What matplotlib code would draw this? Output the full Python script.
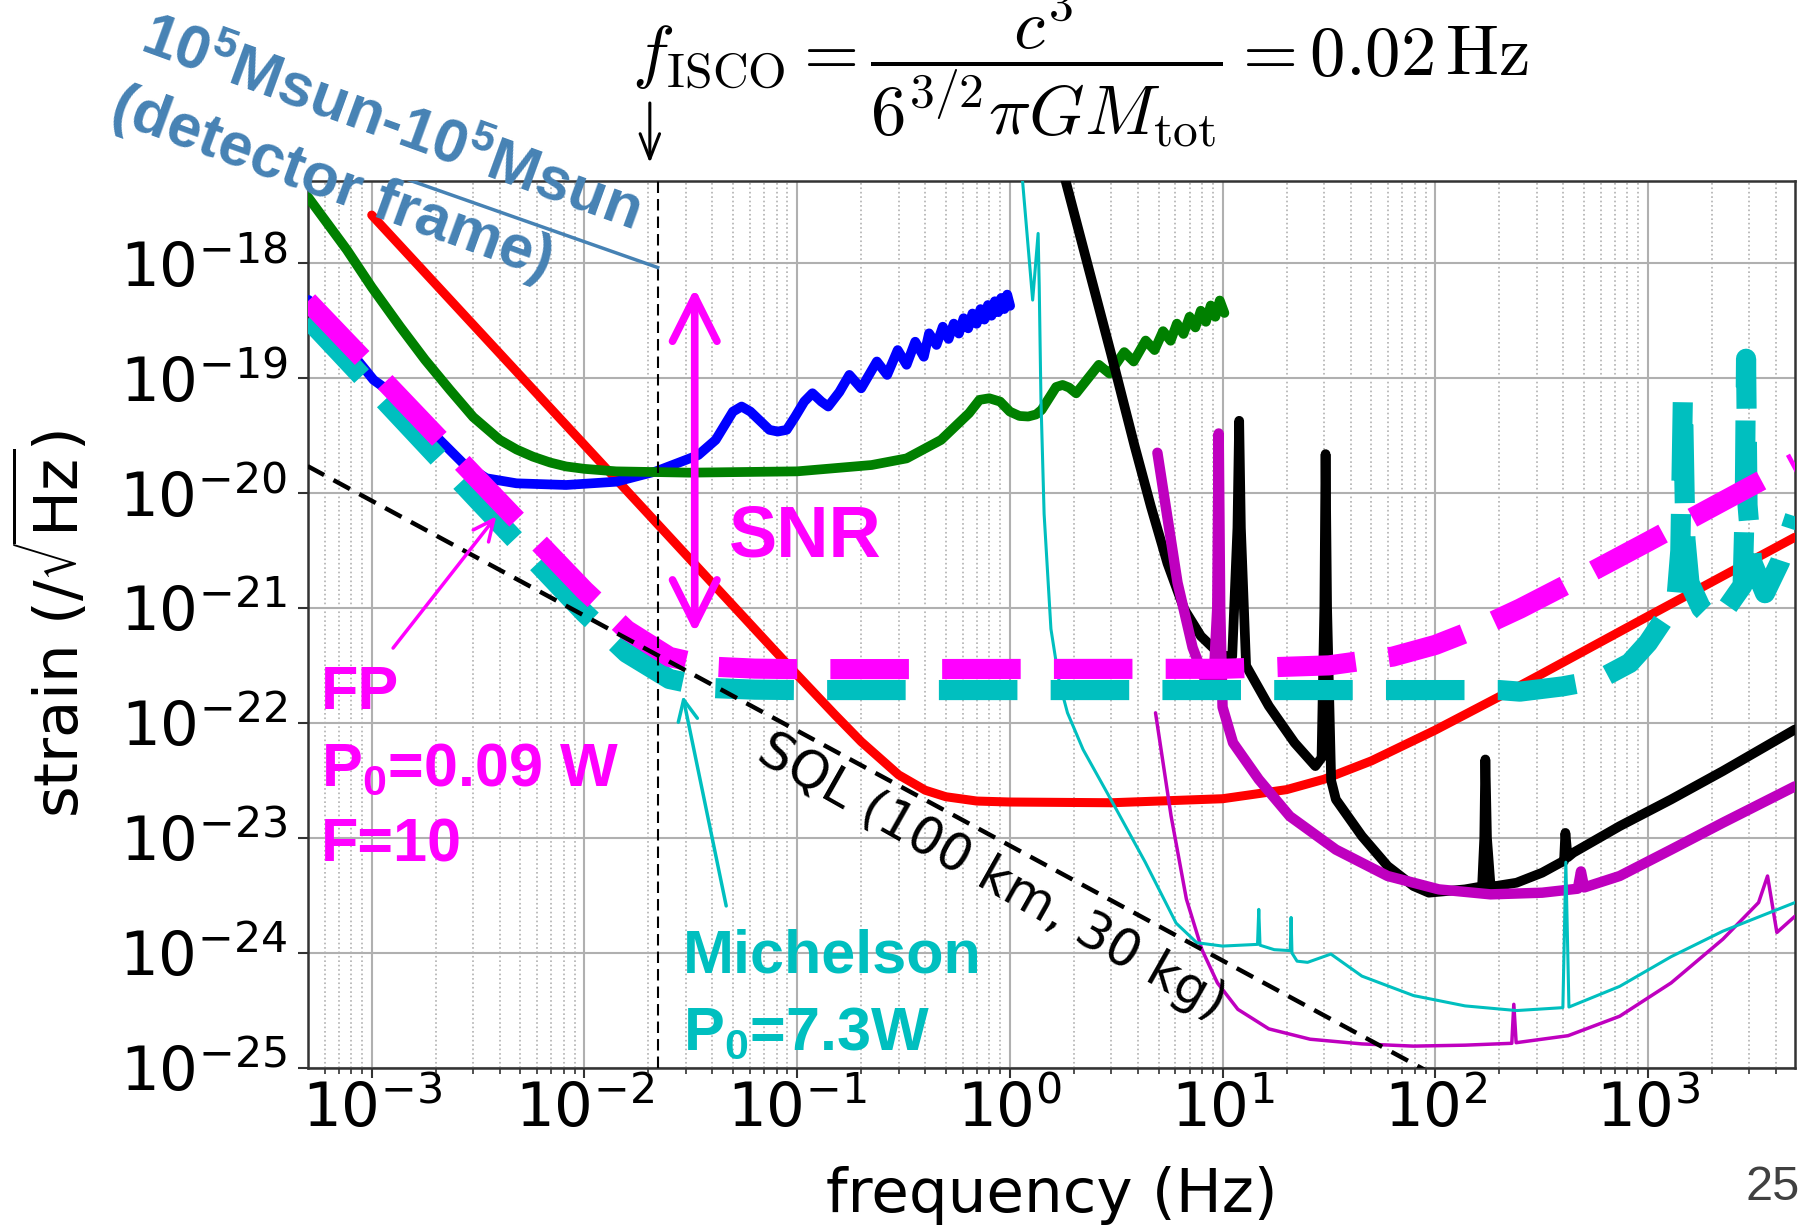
import matplotlib
matplotlib.use("Agg")
import matplotlib.pyplot as plt
from matplotlib.ticker import LogLocator, NullLocator, NullFormatter

plt.rcParams['mathtext.fontset'] = 'dejavusans'
plt.rcParams['mathtext.rm'] = 'Liberation Sans'
plt.rcParams['mathtext.it'] = 'Liberation Sans:italic'
plt.rcParams['mathtext.bf'] = 'Liberation Sans:bold'

MAG = '#FF00FF'
CYA = '#00BFBF'
PUR = '#BF00BF'
STEEL = '#4682B4'

# ---- data (frequency in Hz, strain in 1/sqrt(Hz)) ----
sql_f = [5.0e-4, 1.0e2]
sql_h = [1.72e-20, 8.6e-26]

f_isco = 0.0221

sig_f = [1.0e-3, 2.21e-2]
sig_h = [6.9e-18, 9.2e-19]

red_f = [1e-3, 3e-3, 1e-2, 3e-2, 0.1, 0.15, 0.2, 0.3, 0.4, 0.5, 0.7, 1, 3, 10, 20, 30,
         50, 100, 200, 300, 1000, 4900]
red_h = [2.63e-18, 2.92e-19, 2.63e-20, 2.92e-21, 2.63e-22, 1.19e-22, 6.9e-23, 3.55e-23,
         2.61e-23, 2.29e-23, 2.1e-23, 2.06e-23, 2.03e-23, 2.2e-23, 2.64e-23, 3.25e-23,
         4.69e-23, 8.7e-23, 1.70e-22, 2.54e-22, 8.5e-22, 4.14e-21]

blue_f = [5.05e-4, 1.02e-3, 1.31e-3, 2.0e-3, 2.69e-3, 3.46e-3, 4.79e-3, 8.2e-3, 1.41e-2,
          2.17e-2, 3.0e-2, 3.43e-2, 4.14e-2, 4.99e-2, 5.48e-2, 6.03e-2, 6.6e-2, 7.41e-2,
          8.1e-2, 8.93e-2, 9.8e-2, 0.108, 0.118, 0.130, 0.140, 0.158, 0.176, 0.200, 0.237,
          0.265, 0.297, 0.327, 0.359, 0.394, 0.417, 0.452, 0.484, 0.515, 0.545, 0.576,
          0.606, 0.637, 0.667, 0.698, 0.728, 0.759, 0.789, 0.82, 0.85, 0.881, 0.911,
          0.942, 0.972, 1.003]
blue_h = [4.80e-19, 9.68e-20, 6.93e-20, 3.15e-20, 1.82e-20, 1.35e-20, 1.22e-20, 1.18e-20,
          1.26e-20, 1.55e-20, 1.95e-20, 2.15e-20, 2.91e-20, 5.13e-20, 5.68e-20, 5.13e-20,
          4.37e-20, 3.56e-20, 3.44e-20, 3.56e-20, 4.65e-20, 6.27e-20, 7.41e-20, 6.27e-20,
          5.68e-20, 7.6e-20, 1.07e-19, 8.18e-20, 1.40e-19, 1.07e-19, 1.76e-19, 1.31e-19,
          2.08e-19, 1.54e-19, 2.46e-19, 1.95e-19, 2.81e-19, 2.2e-19, 2.99e-19, 2.45e-19,
          3.33e-19, 2.72e-19, 3.66e-19, 2.98e-19, 4.0e-19, 3.24e-19, 4.34e-19, 3.5e-19,
          4.68e-19, 3.76e-19, 5.0e-19, 4.0e-19, 5.35e-19, 4.27e-19]

green_f = [5.0e-4, 7.64e-4, 1.0e-3, 1.36e-3, 1.78e-3, 2.33e-3, 3.0e-3, 4.0e-3, 4.8e-3,
           5.73e-3, 6.9e-3, 8.2e-3, 1.0e-2, 1.41e-2, 3.1e-2, 0.1, 0.224, 0.327, 0.475,
           0.643, 0.72, 0.80, 0.90, 1.0, 1.11, 1.22, 1.33, 1.41, 1.65, 1.77, 1.9, 2.05,
           2.62, 2.94, 3.45, 3.82, 4.35, 4.79, 5.25, 5.7, 6.1, 6.55, 7.0, 7.45, 7.9, 8.35,
           8.8, 9.25, 9.7, 10.2]
green_h = [3.8e-18, 1.31e-18, 6.2e-19, 2.81e-19, 1.45e-19, 7.94e-20, 4.6e-20, 2.91e-20,
           2.4e-20, 2.08e-20, 1.85e-20, 1.71e-20, 1.63e-20, 1.55e-20, 1.51e-20, 1.55e-20,
           1.76e-20, 2.01e-20, 2.91e-20, 4.97e-20, 6.49e-20, 6.7e-20, 6.27e-20, 5.13e-20,
           4.7e-20, 4.65e-20, 4.85e-20, 5.31e-20, 8.4e-20, 8.75e-20, 8.3e-20, 7.4e-20,
           1.31e-19, 1.10e-19, 1.69e-19, 1.40e-19, 2.13e-19, 1.76e-19, 2.57e-19, 2.12e-19,
           2.99e-19, 2.43e-19, 3.43e-19, 2.77e-19, 3.87e-19, 3.1e-19, 4.3e-19, 3.43e-19,
           4.75e-19, 3.7e-19]

black_f = [1.78, 2.99, 3.85, 4.60, 5.51, 6.61, 7.91, 9.82, 11.1, 11.75, 11.97, 12.19, 12.9,
           16.5, 21.8, 27.3, 29.2, 30.1, 30.5, 31.0, 32.4, 34.1, 45.2, 59.7, 78.9, 93.3,
           138, 166, 170, 172, 175, 182, 193, 241, 318, 387, 403, 409, 419, 445, 736, 1285,
           2249, 4909]
black_h = [6.3e-18, 1.64e-19, 2.62e-20, 7.71e-21, 2.45e-21, 9.77e-22, 5.71e-22, 3.89e-22,
           3.8e-22, 5e-21, 4.27e-20, 5e-21, 3.16e-22, 1.41e-22, 6.75e-23, 4.23e-23, 5.0e-23,
           1.0e-21, 2.19e-20, 1.0e-21, 3.16e-23, 2.17e-23, 1.04e-23, 5.71e-24, 3.83e-24,
           3.35e-24, 3.58e-24, 3.8e-24, 1e-23, 4.83e-23, 1e-23, 3.8e-24, 3.83e-24, 4.09e-24,
           5.0e-24, 6.1e-24, 6.3e-24, 1.11e-23, 6.8e-24, 7.45e-24, 1.27e-23, 2.17e-23,
           3.83e-23, 8.81e-23]

purple_f = [4.94, 6.14, 7.23, 8.20, 9.02, 9.44, 9.59, 9.75, 10.0, 11.2, 14.8, 20.7, 34.1,
            59.7, 104, 182, 318, 468, 484, 501, 736, 1285, 2249, 4909]
purple_h = [2.25e-20, 1.67e-21, 4.55e-22, 2.47e-22, 1.91e-22, 1e-21, 3.31e-20, 1e-21,
            1.38e-22, 6.75e-23, 3.24e-23, 1.55e-23, 7.94e-24, 4.68e-24, 3.58e-24, 3.24e-24,
            3.35e-24, 3.63e-24, 5.13e-24, 3.72e-24, 4.68e-24, 7.94e-24, 1.36e-23, 2.82e-23]

purple2_f = [4.84, 5.73, 6.76, 8.0, 9.46, 11.8, 16.5, 25.8, 45.2, 78.9, 138, 229, 234, 240,
             421, 736, 1285, 2249, 3311, 3648, 4036, 4909]
purple2_h = [1.23e-22, 1.55e-23, 2.95e-24, 1.07e-24, 5.5e-25, 3.24e-25, 2.19e-25, 1.78e-25,
             1.62e-25, 1.55e-25, 1.58e-25, 1.64e-25, 3.58e-25, 1.66e-25, 1.91e-25, 2.82e-25,
             5.5e-25, 1.32e-24, 2.75e-24, 4.68e-24, 1.51e-24, 2.09e-24]

cyan_f = [1.135, 1.28, 1.358, 1.374, 1.40, 1.449, 1.56, 1.706, 1.866, 2.21, 3.10, 4.33,
          6.05, 7.57, 10.0, 14.6, 14.8, 15.0, 17.5, 20.8, 21.0, 21.2, 22.4, 25.1, 32.3,
          45.2, 78.9, 138, 241, 398, 411, 425, 736, 1285, 2249, 4909]
cyan_h = [6.6e-18, 4.79e-19, 1.82e-18, 6.46e-19, 6.6e-20, 6.6e-21, 6.6e-22, 2.29e-22,
          1.23e-22, 5.89e-23, 1.91e-23, 6.17e-24, 1.82e-24, 1.23e-24, 1.15e-24, 1.19e-24,
          2.4e-24, 1.17e-24, 1.07e-24, 1.05e-24, 2.04e-24, 1.0e-24, 8.5e-25, 8.3e-25,
          9.8e-25, 6.3e-25, 4.27e-25, 3.47e-25, 3.16e-25, 3.35e-25, 6.17e-24, 3.39e-25,
          5.13e-25, 9.3e-25, 1.55e-24, 2.75e-24]

fp_f = [5.01e-4, 1e-3, 3.16e-3, 1e-2, 1.58e-2, 2.51e-2, 3.98e-2, 6.31e-2, 0.1, 10, 31.6,
        63.1, 100, 158, 251, 501, 1000, 2000, 4900]
fp_h = [4.68e-19, 1.23e-19, 1.32e-20, 1.43e-21, 6.46e-22, 3.77e-22, 3.1e-22, 2.98e-22,
        2.95e-22, 2.97e-22, 3.18e-22, 3.79e-22, 4.79e-22, 6.67e-22, 9.94e-22, 1.92e-21,
        3.79e-21, 7.57e-21, 1.85e-20]

mi_f = [5.01e-4, 1e-3, 3.16e-3, 1e-2, 1.58e-2, 2.51e-2, 3.98e-2, 6.31e-2, 0.1, 200, 250,
        398, 583, 820, 1000, 1202, 1358, 1419, 1459, 1500, 1567, 1778, 2018, 2344, 2786,
        2851, 2891, 2938, 3090, 3548, 4169, 4909]
mi_h = [3.29e-19, 8.41e-20, 8.65e-21, 9.1e-22, 4.08e-22, 2.42e-22, 2.02e-22, 1.955e-22,
        1.94e-22, 1.94e-22, 1.88e-22, 2.09e-22, 2.38e-22, 3.33e-22, 5.0e-22, 8.3e-22,
        1.15e-21, 3.16e-21, 6.9e-20, 3.98e-21, 1.66e-21, 1.0e-21, 7.9e-22, 1.0e-21,
        1.58e-21, 7.9e-21, 1.48e-19, 7.9e-21, 2.51e-21, 1.35e-21, 2.51e-21, 6.3e-21]

ytick_vals = [1e-25, 1e-24, 1e-23, 1e-22, 1e-21, 1e-20, 1e-19, 1e-18]

# ---- figure ----
fig = plt.figure(figsize=(18.1, 12.29), dpi=100)
ax = fig.add_axes([0.1702, 0.1310, 0.8215, 0.7217])
ax.set_xscale('log')
ax.set_yscale('log')
ax.set_xlim(5.02e-4, 4.91e3)
ax.set_ylim(1e-25, 5.2e-18)
ax.set_yticks(ytick_vals)
ax.yaxis.set_minor_locator(NullLocator())
ax.xaxis.set_minor_locator(LogLocator(base=10, subs=range(2, 10), numticks=100))
ax.xaxis.set_minor_formatter(NullFormatter())

ax.set_axisbelow(True)
ax.grid(True, which='major', color='#b0b0b0', lw=1.5)
ax.grid(True, which='minor', axis='x', color='#b0b0b0', lw=1.2, ls=':')
for s in ax.spines.values():
    s.set_linewidth(1.8)
    s.set_color('#333333')
ax.tick_params(axis='y', which='major', labelsize=44, length=7, width=1.5, pad=8,
               color='#333333')
ax.tick_params(axis='x', which='major', labelsize=44, length=7, width=1.5, pad=2,
               color='#333333')
ax.tick_params(axis='x', which='minor', length=4, width=1.2, color='#333333')

solid = dict(solid_joinstyle='round', solid_capstyle='round')
ax.plot(red_f, red_h, color='#FF0000', lw=6.5, zorder=3, **solid)
ax.plot(blue_f, blue_h, color='#0000FF', lw=7, zorder=3, **solid)
ax.plot(green_f, green_h, color='#008000', lw=7, zorder=3, **solid)
ax.plot(black_f, black_h, color='black', lw=7, zorder=3, **solid)
ax.plot(purple_f, purple_h, color=PUR, lw=7.5, zorder=3, **solid)
ax.plot(purple2_f, purple2_h, color=PUR, lw=2.5, zorder=3, **solid)
ax.plot(cyan_f, cyan_h, color=CYA, lw=2.2, zorder=3, **solid)

ax.plot(mi_f, mi_h, color=CYA, lw=14.5, ls='--', dashes=(3.9, 1.65), zorder=4,
        dash_joinstyle='round')
ax.plot(fp_f, fp_h, color=MAG, lw=14.5, ls='--', dashes=(3.9, 1.65), zorder=4,
        dash_joinstyle='round')

ax.plot(sql_f, sql_h, color='black', lw=3.2, ls='--', dashes=(4.2, 2.4), zorder=5)
ax.axvline(f_isco, color='black', lw=1.5, ls='--', dashes=(5.5, 2.9), zorder=5)
ax.plot(sig_f, sig_h, color=STEEL, lw=2.5, zorder=5)

# ---- annotations ----
bold = dict(fontweight='bold', family='Liberation Sans', math_fontfamily='custom')

ax.annotate('', xy=(0.033, 6.1e-22), xytext=(0.033, 6.07e-19),
            arrowprops=dict(arrowstyle='<->,head_length=3.2,head_width=1.6',
                            color=MAG, lw=5.5, mutation_scale=10, shrinkA=0, shrinkB=0),
            zorder=6)
ax.text(0.0478, 2.82e-21, 'SNR', color=MAG, fontsize=52, ha='left', va='baseline',
        zorder=6, **bold)

ax.annotate('', xy=(3.85e-3, 6.3e-21), xytext=(1.26e-3, 4.5e-22),
            arrowprops=dict(arrowstyle='->,head_length=1.5,head_width=0.7',
                            color=MAG, lw=2.5, mutation_scale=10, shrinkA=0, shrinkB=0),
            zorder=6)
ax.text(5.75e-4, 1.32e-22, 'FP', color=MAG, fontsize=44, ha='left', va='baseline',
        zorder=6, **bold)
ax.text(5.75e-4, 2.85e-23, r'P$_\mathbf{0}$=0.09 W', color=MAG, fontsize=44, ha='left',
        va='baseline', zorder=6, **bold)
ax.text(5.75e-4, 6.2e-24, 'F=10', color=MAG, fontsize=44, ha='left', va='baseline',
        zorder=6, **bold)

ax.annotate('', xy=(0.0290, 1.73e-22), xytext=(0.0464, 2.57e-24),
            arrowprops=dict(arrowstyle='->,head_length=1.5,head_width=0.7',
                            color=CYA, lw=2.5, mutation_scale=10, shrinkA=0, shrinkB=0),
            zorder=6)
ax.text(0.0291, 6.8e-25, 'Michelson', color=CYA, fontsize=44, ha='left', va='baseline',
        zorder=6, **bold)
ax.text(0.0291, 1.46e-25, r'P$_\mathbf{0}$=7.3W', color=CYA, fontsize=44, ha='left',
        va='baseline', zorder=6, **bold)

ax.text(0.063, 4.8e-23, 'SQL (100 km, 30 kg)', fontsize=37, rotation=-29.5,
        rotation_mode='anchor', ha='left', va='baseline', zorder=6)

# labels
ax.set_xlabel('frequency (Hz)', fontsize=44)
ax.xaxis.set_label_coords(0.5, -0.1105)
ax.set_ylabel(r'strain (/$\sqrt{\rm Hz}$)', fontsize=44)
ax.yaxis.set_label_coords(-0.145, 0.5)

# formula and arrow to f_ISCO above the axes
fig.text(0.349, 0.9447,
         r'$f_{\rm ISCO} = \dfrac{c^3}{6^{3/2}\pi G M_{\rm tot}} = 0.02\,{\rm Hz}$',
         fontsize=51, ha='left', va='center', math_fontfamily='cm')
ax.annotate('', xy=(0.0203, 0.8674), xytext=(0.0203, 0.9162),
            xycoords=('data', 'figure fraction'), textcoords=('data', 'figure fraction'),
            arrowprops=dict(arrowstyle='->,head_length=0.9,head_width=0.35', color='black',
                            lw=2.2, mutation_scale=20, shrinkA=0, shrinkB=0),
            annotation_clip=False)

fig.text(0.0762, 0.9593, r'10$^\mathbf{5}$Msun-10$^\mathbf{5}$Msun', color=STEEL,
         fontsize=44, rotation=-20, rotation_mode='anchor', ha='left', va='baseline',
         zorder=7, **bold)
fig.text(0.0597, 0.9024, '(detector frame)', color=STEEL, fontsize=44, rotation=-20,
         rotation_mode='anchor', ha='left', va='baseline', zorder=7, **bold)

fig.text(0.9945, 1 - 1200 / 1229, '25', color='#404040', fontsize=35,
         family='Liberation Sans', ha='right', va='baseline')

fig.savefig('out.png', dpi=100)
